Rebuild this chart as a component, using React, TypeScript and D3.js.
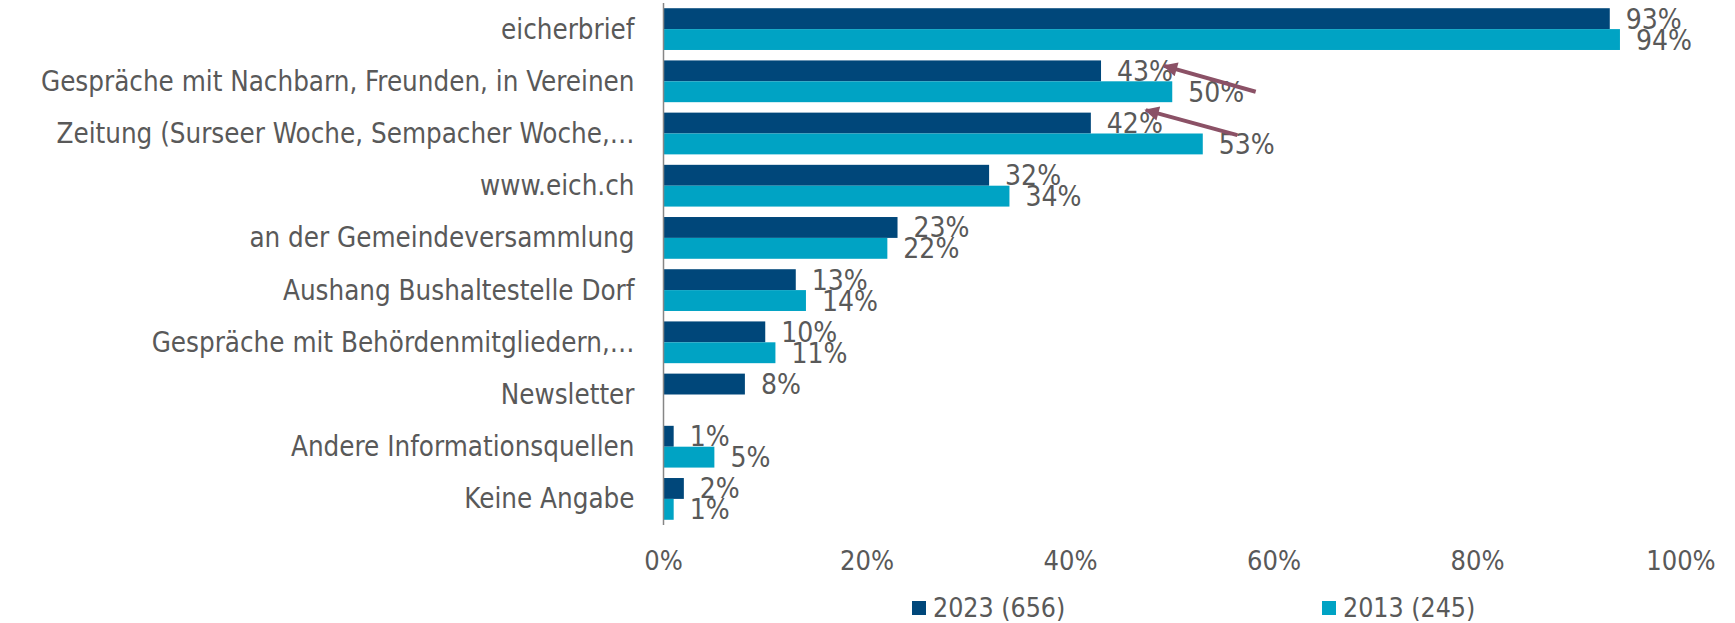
import React, { useEffect } from "react";
import * as d3 from "d3";

const categories = [
  "eicherbrief",
  "Gespräche mit Nachbarn, Freunden, in Vereinen",
  "Zeitung (Surseer Woche, Sempacher Woche,…",
  "www.eich.ch",
  "an der Gemeindeversammlung",
  "Aushang Bushaltestelle Dorf",
  "Gespräche mit Behördenmitgliedern,…",
  "Newsletter",
  "Andere Informationsquellen",
  "Keine Angabe",
];
const values2023: (number | null)[] = [93, 43, 42, 32, 23, 13, 10, 8, 1, 2];
const values2013: (number | null)[] = [94, 50, 53, 34, 22, 14, 11, null, 5, 1];
const seriesNames = ["2023 (656)", "2013 (245)"];
const xTicks = [0, 20, 40, 60, 80, 100];

// annotation arrows: [category index, tail (value %, band fraction), tip (value %, band fraction)]
const arrows = [
  { cat: 1, tail: [58.2, 0.75], tip: [49.2, 0.13] },
  { cat: 2, tail: [56.4, 0.54], tip: [47.4, -0.06] },
];

const W = 1735;
const H = 623;
const COLORS = ["#00477a", "#00a3c4"];
const TEXT = "#595959";
const FONT = "'DejaVu Sans Condensed', 'DejaVu Sans', sans-serif";
const ARROW = "#8b5166";

export default function App() {
  useEffect(() => {
    document.body.style.margin = "0";
  }, []);

  const x = d3.scaleLinear().domain([0, 100]).range([663.5, 1681]);
  const y = d3
    .scaleBand<number>()
    .domain(d3.range(categories.length))
    .range([3, 525])
    .paddingInner(0.2)
    .paddingOuter(0.1);
  const bw = y.bandwidth();
  const sub = d3.scaleBand<number>().domain([0, 1]).range([0, bw]);
  const series = [values2023, values2013];

  const legendX = [912, 1322];

  return (
    <svg width={W} height={H} style={{ position: "absolute", left: 0, top: 0, background: "#fff" }}>
      <defs>
        <marker id="ah" viewBox="0 0 10 10" refX="9" refY="5" markerWidth="4.5" markerHeight="3.6" orient="auto" markerUnits="strokeWidth">
          <path d="M0,0 L10,5 L0,10 z" fill={ARROW} />
        </marker>
      </defs>
      {/* bars */}
      {series.map((vals, s) =>
        vals.map((v, i) =>
          v == null ? null : (
            <rect
              key={`b${s}-${i}`}
              x={x(0)}
              y={(y(i) as number) + (sub(s) as number)}
              width={x(v) - x(0)}
              height={sub.bandwidth()}
              fill={COLORS[s]}
            />
          )
        )
      )}
      {/* axis line */}
      <line x1={x(0)} x2={x(0)} y1={3} y2={525} stroke="#868686" strokeWidth={1.5} />
      {/* category labels */}
      {categories.map((c, i) => (
        <text
          key={`c${i}`}
          x={x(0) - 29}
          y={(y(i) as number) + bw / 2 + 9.5}
          textAnchor="end"
          fontFamily={FONT}
          fontSize={27.5}
          fill={TEXT}
        >
          {c}
        </text>
      ))}
      {/* data labels */}
      {series.map((vals, s) =>
        vals.map((v, i) =>
          v == null ? null : (
            <text
              key={`l${s}-${i}`}
              x={x(v) + 16}
              y={(y(i) as number) + (sub(s) as number) + sub.bandwidth() / 2 + 10}
              fontFamily={FONT}
              fontSize={28}
              fill={TEXT}
            >
              {`${v}%`}
            </text>
          )
        )
      )}
      {/* arrows */}
      {arrows.map((a, k) => {
        const top = y(a.cat) as number;
        return (
          <line
            key={`a${k}`}
            x1={x(a.tail[0])}
            y1={top + a.tail[1] * bw}
            x2={x(a.tip[0])}
            y2={top + a.tip[1] * bw}
            stroke={ARROW}
            strokeWidth={4}
            markerEnd="url(#ah)"
          />
        );
      })}
      {/* x tick labels */}
      {xTicks.map((t) => (
        <text key={`t${t}`} x={x(t)} y={570} textAnchor="middle" fontFamily={FONT} fontSize={27} fill={TEXT}>
          {`${t}%`}
        </text>
      ))}
      {/* legend */}
      {seriesNames.map((n, s) => (
        <g key={`lg${s}`}>
          <rect x={legendX[s]} y={601} width={14} height={14} fill={COLORS[s]} />
          <text x={legendX[s] + 21} y={617} fontFamily={FONT} fontSize={26.5} fill={TEXT}>
            {n}
          </text>
        </g>
      ))}
    </svg>
  );
}
